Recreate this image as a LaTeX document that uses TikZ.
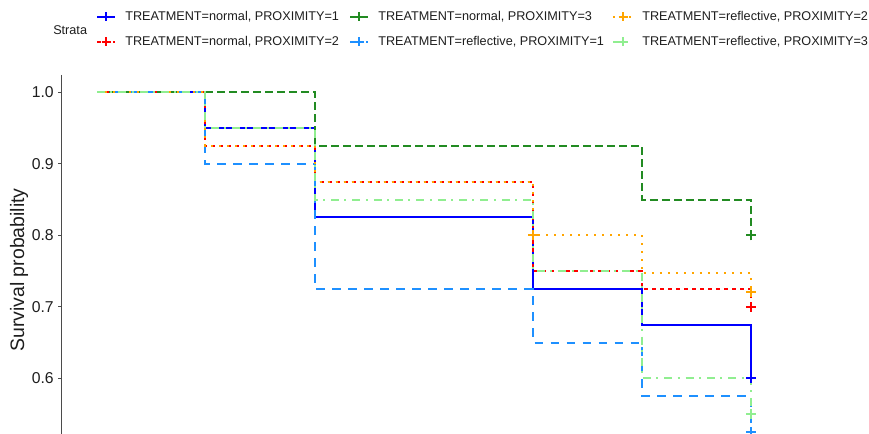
\documentclass[tikz,border=0pt]{standalone}
\usepackage{fontspec}
\setmainfont{Liberation Sans}
\definecolor{cblue}{RGB}{0,0,255}
\definecolor{cred}{RGB}{255,0,0}
\definecolor{cgreen}{RGB}{34,139,34}
\definecolor{cdodger}{RGB}{30,144,255}
\definecolor{corange}{RGB}{255,165,0}
\definecolor{clight}{RGB}{144,238,144}
\definecolor{txt}{RGB}{30,30,30}
\begin{document}
\begin{tikzpicture}[x=0.75pt,y=-0.75pt,
  curve/.style={line width=1.5pt},
  sblue/.style={curve,cblue},
  sred/.style={curve,cred,dash pattern=on 3pt off 3pt},
  sgreen/.style={curve,cgreen,dash pattern=on 6pt off 3pt},
  sdodger/.style={curve,cdodger,dash pattern=on 6.5pt off 5.5pt},
  sorange/.style={curve,corange,dash pattern=on 1.5pt off 4.5pt},
  slight/.style={curve,clight,dash pattern=on 6pt off 4pt on 1.5pt off 4.5pt},
  cens/.style={line width=1.4pt},
  legtxt/.style={anchor=west,inner sep=0pt,font=\fontsize{9.5pt}{11pt}\selectfont,text=txt},
  ticklab/.style={anchor=east,inner sep=0pt,font=\fontsize{11.8pt}{13pt}\selectfont,text=txt},
]
\useasboundingbox (0,0) rectangle (869,434);
\fill[white] (0,0) rectangle (869,434);

% legend
\node[legtxt] (strata) at (53,30) {Strata};
\draw[sblue] (97,16.7) -- (115,16.7);
\draw[cblue,cens] (101.5,16.7) -- (110.5,16.7) (106,12.2) -- (106,21.2);
\draw[sred] (97,41.7) -- (115,41.7);
\draw[cred,cens] (101.5,41.7) -- (110.5,41.7) (106,37.2) -- (106,46.2);
\draw[sgreen,solid] (350,16.7) -- (368,16.7);
\draw[cgreen,cens] (354.5,16.7) -- (363.5,16.7) (359,12.2) -- (359,21.2);
\draw[sdodger] (350,41.7) -- (368,41.7);
\draw[cdodger,cens] (354.5,41.7) -- (363.5,41.7) (359,37.2) -- (359,46.2);
\draw[sorange] (613,16.7) -- (633,16.7);
\draw[corange,cens] (618.5,16.7) -- (627.5,16.7) (623,12.2) -- (623,21.2);
\draw[slight] (613,41.7) -- (633,41.7);
\draw[clight,cens] (618.5,41.7) -- (627.5,41.7) (623,37.2) -- (623,46.2);
\node[legtxt] (l1) at (125,16.7) {TREATMENT=normal, PROXIMITY=1};
\node[legtxt] (l2) at (125,41.7) {TREATMENT=normal, PROXIMITY=2};
\node[legtxt] (l3) at (378,16.7) {TREATMENT=normal, PROXIMITY=3};
\node[legtxt] (l4) at (378,41.7) {TREATMENT=reflective, PROXIMITY=1};
\node[legtxt] (l5) at (642,16.7) {TREATMENT=reflective, PROXIMITY=2};
\node[legtxt] (l6) at (642,41.7) {TREATMENT=reflective, PROXIMITY=3};

% axis
\draw[line width=0.9pt,txt!80] (61.7,75) -- (61.7,434);
\node[rotate=90,inner sep=0pt,font=\fontsize{14.6pt}{16pt}\selectfont,text=txt] (ytitle) at (19,270) {Survival probability};

\begin{scope}[y=536.25pt,yshift=-605.475pt]
  \foreach \v/\n in {1.0/a,0.9/b,0.8/c,0.7/d,0.6/e}{
    \draw[line width=0.9pt,txt!80] (58,\v) -- (61.7,\v);
    \node[ticklab] (tick\n) at (54,\v) {\v};
  }
  % curves
  \draw[sblue] (97,1) -- (205,1) -- (205,.95) -- (315,.95) -- (315,.825) -- (533,.825) -- (533,.725) -- (642,.725) -- (642,.675) -- (751,.675) -- (751,.6);
  \draw[sred] (97,1) -- (205,1) -- (205,.925) -- (315,.925) -- (315,.875) -- (533,.875) -- (533,.75) -- (642,.75) -- (642,.725) -- (751,.725) -- (751,.7);
  \draw[sgreen] (97,1) -- (315,1) -- (315,.925) -- (642,.925) -- (642,.85) -- (751,.85) -- (751,.8);
  \draw[sdodger] (97,1) -- (205,1) -- (205,.9) -- (315,.9) -- (315,.725) -- (533,.725) -- (533,.65) -- (642,.65) -- (642,.575) -- (751,.575) -- (751,.525);
  \draw[sorange] (97,1) -- (205,1) -- (205,.925) -- (315,.925) -- (315,.875) -- (533,.875) -- (533,.8) -- (642,.8) -- (642,.7467) -- (751,.7467) -- (751,.721);
  \draw[slight] (97,1) -- (205,1) -- (205,.95) -- (315,.95) -- (315,.85) -- (533,.85) -- (533,.75) -- (642,.75) -- (642,.6) -- (751,.6) -- (751,.55);
  % censor marks
  \foreach \xx/\vv/\cc in {751/.6/cblue,751/.7/cred,751/.8/cgreen,751/.525/cdodger,533/.8/corange,751/.721/corange,751/.55/clight}{
    \draw[\cc,cens] ([xshift=-3.75pt]\xx,\vv) -- ([xshift=3.75pt]\xx,\vv)
                    ([yshift=-3.75pt]\xx,\vv) -- ([yshift=3.75pt]\xx,\vv);
  }
\end{scope}
\end{tikzpicture}
\end{document}
